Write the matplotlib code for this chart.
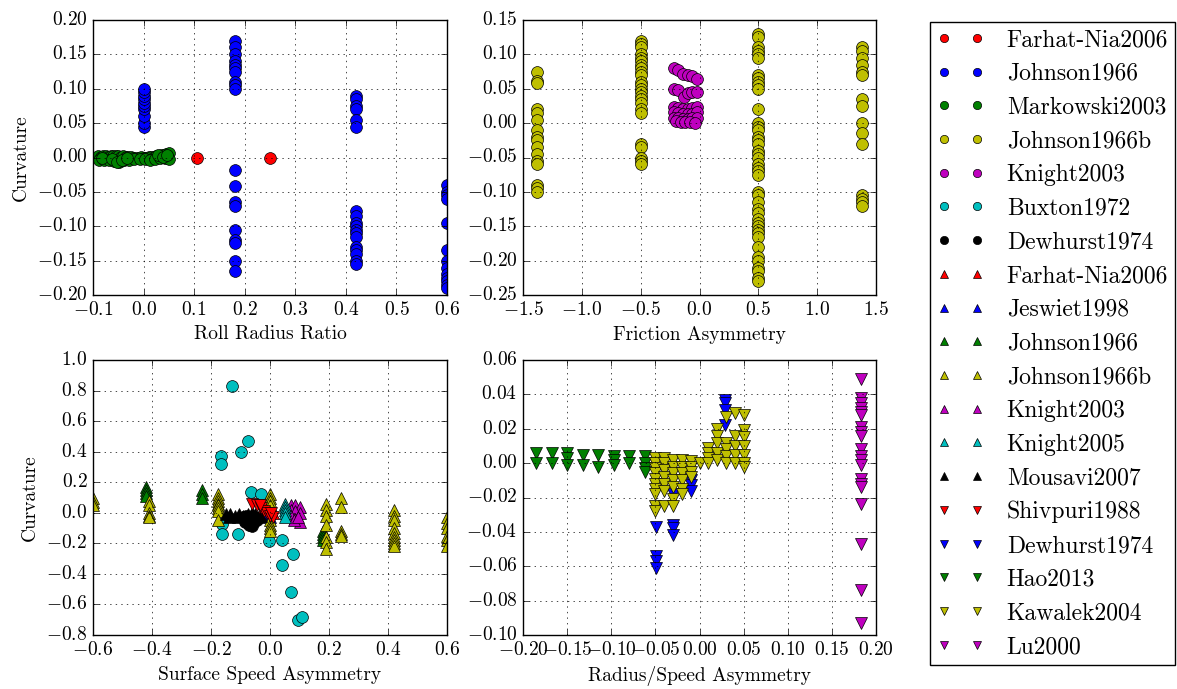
import numpy as np
import matplotlib
matplotlib.use("Agg")
import matplotlib.pyplot as plt

plt.style.use('classic')
plt.rcParams['figure.facecolor'] = 'white'
plt.rcParams['savefig.facecolor'] = 'white'
plt.rcParams['font.family'] = ['cmr10', 'DejaVu Serif']
plt.rcParams['mathtext.fontset'] = 'cm'
plt.rcParams['axes.formatter.use_mathtext'] = True
plt.rcParams['axes.unicode_minus'] = True
plt.rcParams['xtick.labelsize'] = 14
plt.rcParams['ytick.labelsize'] = 14
plt.rcParams['axes.labelsize'] = 14

# ---------- data ----------
# panel 1: roll radius ratio
farhat_circ_x = [0.105, 0.25]
farhat_circ_y = [0.0, 0.0]

johnson_circ_cols = {
    0.0: [0.045, 0.05, 0.06, 0.07, 0.075, 0.08, 0.085, 0.09, 0.095, 0.10],
    0.18: [0.17, 0.16, 0.15, 0.14, 0.135, 0.13, 0.125, 0.11, 0.105, 0.10,
           -0.018, -0.042, -0.065, -0.07, -0.105, -0.12, -0.125, -0.15, -0.165],
    0.42: [0.09, 0.085, 0.075, 0.07, 0.055, 0.045, -0.078, -0.085, -0.095,
           -0.10, -0.105, -0.11, -0.115, -0.13, -0.135, -0.14, -0.15, -0.155],
    0.6: [-0.04, -0.05, -0.055, -0.06, -0.095, -0.135, -0.15, -0.16, -0.17,
          -0.175, -0.18, -0.185, -0.19],
}

markowski_x = [-0.09, -0.085, -0.08, -0.075, -0.07, -0.065, -0.06, -0.055, -0.05,
               -0.045, -0.04, -0.035, -0.03, -0.025, -0.02, -0.015, -0.01, -0.005,
               0.0, 0.005, 0.01, 0.015, 0.02, 0.025, 0.03, 0.035, 0.04, 0.045, 0.05,
               -0.088, -0.078, -0.068, -0.058, -0.048, -0.038, -0.028, -0.018,
               -0.008, 0.002, 0.012, 0.022, 0.032, 0.042, 0.05,
               -0.083, -0.063, -0.053, -0.043, -0.033, 0.028, 0.038, 0.047]
markowski_y = [0.002, 0.001, 0.002, 0.002, 0.001, 0.002, 0.002, 0.002, 0.002,
               0.001, 0.002, 0.001, 0.001, 0.001, 0.0, 0.0, 0.0, 0.001,
               0.0, 0.0, 0.001, 0.001, 0.001, 0.002, 0.002, 0.003, 0.004, 0.005, 0.006,
               -0.003, -0.003, -0.004, -0.005, -0.006, -0.004, -0.003, -0.002,
               -0.002, -0.002, -0.003, -0.002, -0.001, -0.001, -0.002,
               -0.001, -0.002, -0.007, -0.003, -0.001, 0.004, 0.001, 0.003]

# panel 2: friction asymmetry
johnsonb_circ_cols = {
    -1.38: [0.075, 0.062, 0.058, 0.02, 0.015, 0.005, -0.01, -0.02, -0.025,
            -0.035, -0.045, -0.055, -0.06, -0.09, -0.095, -0.10],
    -0.5: [0.12, 0.115, 0.11, 0.10, 0.095, 0.09, 0.085, 0.08, 0.075, 0.07,
           0.06, 0.055, 0.05, 0.045, 0.04, 0.035, 0.03, 0.02, 0.015,
           -0.03, -0.035, -0.05, -0.055, -0.06],
    0.5: [0.13, 0.125, 0.11, 0.105, 0.10, 0.095, 0.07, 0.065, 0.06, 0.055,
          0.05, 0.02, 0.0, -0.005, -0.01, -0.02, -0.025, -0.03, -0.04, -0.045,
          -0.05, -0.06, -0.065, -0.07, -0.075, -0.10, -0.105, -0.115, -0.125,
          -0.13, -0.14, -0.145, -0.15, -0.155, -0.16, -0.165, -0.18, -0.195,
          -0.20, -0.21, -0.215, -0.225, -0.23],
    1.38: [0.11, 0.105, 0.095, 0.085, 0.075, 0.07, 0.035, 0.025, 0.0, -0.015,
           -0.03, -0.105, -0.11, -0.115, -0.12],
}

knight_circ_x = [-0.22, -0.18, -0.14, -0.10, -0.06, -0.025,
                 -0.22, -0.18, -0.13, -0.10, -0.06, -0.025,
                 -0.22, -0.18, -0.14, -0.10, -0.06, -0.025,
                 -0.22, -0.18, -0.14, -0.10, -0.06, -0.025,
                 -0.22, -0.18, -0.14, -0.10, -0.06, -0.025,
                 -0.20, -0.16, -0.12, -0.08, -0.04]
knight_circ_y = [0.080, 0.078, 0.072, 0.070, 0.068, 0.064,
                 0.050, 0.048, 0.038, 0.044, 0.046, 0.045,
                 0.024, 0.022, 0.020, 0.020, 0.022, 0.024,
                 0.016, 0.015, 0.014, 0.013, 0.014, 0.016,
                 0.008, 0.007, 0.006, 0.006, 0.007, 0.008,
                 0.003, 0.002, 0.001, 0.001, 0.0]

# panel 3: surface speed asymmetry
buxton_x = [-0.13, -0.075, -0.10, -0.165, -0.165, -0.064, -0.03, -0.162,
            -0.164, -0.107, -0.002, 0.039, 0.077, 0.04, 0.07, 0.095, 0.11]
buxton_y = [0.83, 0.47, 0.40, 0.37, 0.32, 0.134, 0.12, -0.076,
            -0.14, -0.14, -0.185, -0.178, -0.27, -0.34, -0.52, -0.70, -0.68]

dewhurst_circ_x = [-0.09, -0.08, -0.07, -0.06, -0.05, -0.085, -0.075, -0.065,
                   -0.055, -0.08, -0.07, -0.06, -0.045, -0.07, -0.06]
dewhurst_circ_y = [-0.03, -0.04, -0.05, -0.04, -0.03, -0.06, -0.065, -0.07,
                   -0.06, -0.02, -0.03, -0.02, -0.05, -0.08, -0.085]

farhat_tri_x = [-0.03, -0.01, 0.01]
farhat_tri_y = [0.0, -0.01, 0.0]

jeswiet_x = [-0.02, 0.0]
jeswiet_y = [-0.02, -0.03]

johnson_tri_cols = {
    -0.42: [0.17, 0.15, 0.13, 0.11],
    -0.23: [0.15, 0.12, 0.10],
    0.18: [-0.12, -0.14, -0.16, -0.18],
}

johnsonb_tri_cols = {
    -0.6: [0.10, 0.07, 0.05],
    -0.41: [0.08, 0.05, 0.0, -0.02, -0.03],
    -0.175: [0.12, 0.10, 0.08, 0.06, 0.05, 0.03, 0.01, -0.05],
    0.0: [0.12, 0.10, 0.08, 0.05, -0.05, -0.08, -0.10, -0.12],
    0.19: [0.06, 0.02, -0.02, -0.08, -0.16, -0.19, -0.24],
    0.24: [0.10, 0.04, -0.12, -0.14, -0.15],
    0.42: [0.02, -0.02, -0.05, -0.10, -0.13, -0.16, -0.18, -0.20, -0.22],
    0.6: [-0.03, -0.07, -0.10, -0.15, -0.18, -0.22],
}

knight_tri_x = [0.07, 0.085, 0.10, 0.07, 0.085, 0.10, 0.07, 0.085, 0.10, 0.08, 0.095]
knight_tri_y = [0.05, 0.05, 0.04, 0.02, 0.01, 0.0, -0.02, -0.04, -0.06, -0.05, -0.03]

knight05_x = [0.05, 0.05, 0.05, 0.05, 0.05]
knight05_y = [0.06, 0.04, 0.02, 0.0, -0.03]

mousavi_x = [-0.15, -0.135, -0.12, -0.105, -0.09, -0.075, -0.06, -0.05,
             -0.04, -0.03, -0.14, -0.11, -0.08]
mousavi_y = [-0.01, -0.01, -0.02, -0.01, -0.02, -0.01, 0.0, -0.01,
             -0.03, -0.02, -0.03, -0.03, -0.04]

shivpuri_x = [-0.06, -0.045, -0.03, -0.02, -0.01, 0.0, 0.01, -0.035, 0.005]
shivpuri_y = [0.06, 0.05, 0.03, 0.01, 0.0, -0.02, -0.03, 0.05, 0.0]

# panel 4: radius/speed asymmetry
hao_x = [-0.185, -0.185, -0.167, -0.167, -0.15, -0.15, -0.15, -0.132, -0.132,
         -0.115, -0.115, -0.097, -0.097, -0.097, -0.08, -0.08, -0.062, -0.062,
         -0.062, -0.062]
hao_y = [0.006, 0.0, 0.006, 0.0, 0.006, 0.003, -0.001, 0.005, -0.001,
         0.005, -0.002, 0.004, 0.002, -0.001, 0.004, 0.0, 0.004, 0.0,
         -0.003, -0.005]

kawalek_cols = {
    -0.05: [0.003, 0.0, -0.003, -0.006, -0.009, -0.012, -0.015, -0.018,
            -0.025, -0.028],
    -0.04: [0.003, 0.0, -0.004, -0.008, -0.012, -0.016, -0.025],
    -0.03: [0.002, -0.002, -0.006, -0.010, -0.014, -0.021, -0.025],
    -0.02: [0.002, -0.002, -0.006, -0.010, -0.015, -0.018],
    -0.01: [0.001, -0.002, -0.005, -0.008],
    0.0: [0.0],
    0.01: [0.009, 0.006, 0.003, 0.0],
    0.02: [0.020, 0.016, 0.012, 0.006, 0.002],
    0.03: [0.027, 0.012, 0.008, 0.004, 0.0],
    0.04: [0.029, 0.016, 0.010, 0.005, 0.0],
    0.05: [0.028, 0.019, 0.015, 0.010, 0.005, 0.0, -0.002],
}

dewhurst_tri_x = [-0.049, -0.049, -0.049, -0.049, -0.03, -0.03, -0.03, -0.03,
                  0.029, 0.029, 0.029, 0.029, -0.01, -0.01, -0.01]
dewhurst_tri_y = [-0.037, -0.054, -0.057, -0.061, -0.018, -0.036, -0.038, -0.042,
                  0.037, 0.035, 0.031, 0.022, -0.010, -0.013, -0.016]

lu_y = [0.049, 0.038, 0.035, 0.032, 0.030, 0.028, 0.021, 0.018, 0.016, 0.008,
        0.004, 0.002, -0.001, -0.009, -0.012, -0.014, -0.024, -0.047, -0.074,
        -0.093]
lu_x = [0.183] * len(lu_y)


def cols_to_xy(cols):
    xs, ys = [], []
    for x, yy in cols.items():
        xs += [x] * len(yy)
        ys += yy
    return xs, ys


W, H = 1177, 689
fig = plt.figure(figsize=(W / 100, H / 100), dpi=100)


def rect(l, t, r, b):
    return [l / W, 1 - b / H, (r - l) / W, (b - t) / H]


ax1 = fig.add_axes(rect(93, 20, 447, 295))
ax2 = fig.add_axes(rect(523, 20, 876, 295))
ax3 = fig.add_axes(rect(93, 360, 447, 635))
ax4 = fig.add_axes(rect(523, 360, 876, 635))

RED, BLUE, GREEN = (1, 0, 0), (0, 0, 1), (0, 0.5, 0)
YEL, MAG, CYAN, BLK = (0.75, 0.75, 0), (0.75, 0, 0.75), (0, 0.75, 0.75), (0, 0, 0)

jx, jy = cols_to_xy(johnson_circ_cols)
jbx, jby = cols_to_xy(johnsonb_circ_cols)
jtx, jty = cols_to_xy(johnson_tri_cols)
jbtx, jbty = cols_to_xy(johnsonb_tri_cols)
kx, ky = cols_to_xy(kawalek_cols)

series = [
    (ax1, 'o', RED, 'Farhat-Nia2006', farhat_circ_x, farhat_circ_y),
    (ax1, 'o', BLUE, 'Johnson1966', jx, jy),
    (ax1, 'o', GREEN, 'Markowski2003', markowski_x, markowski_y),
    (ax2, 'o', YEL, 'Johnson1966b', jbx, jby),
    (ax2, 'o', MAG, 'Knight2003', knight_circ_x, knight_circ_y),
    (ax3, 'o', CYAN, 'Buxton1972', buxton_x, buxton_y),
    (ax3, 'o', BLK, 'Dewhurst1974', dewhurst_circ_x, dewhurst_circ_y),
    (ax3, '^', RED, 'Farhat-Nia2006', farhat_tri_x, farhat_tri_y),
    (ax3, '^', BLUE, 'Jeswiet1998', jeswiet_x, jeswiet_y),
    (ax3, '^', GREEN, 'Johnson1966', jtx, jty),
    (ax3, '^', YEL, 'Johnson1966b', jbtx, jbty),
    (ax3, '^', MAG, 'Knight2003', knight_tri_x, knight_tri_y),
    (ax3, '^', CYAN, 'Knight2005', knight05_x, knight05_y),
    (ax3, '^', BLK, 'Mousavi2007', mousavi_x, mousavi_y),
    (ax3, 'v', RED, 'Shivpuri1988', shivpuri_x, shivpuri_y),
    (ax4, 'v', BLUE, 'Dewhurst1974', dewhurst_tri_x, dewhurst_tri_y),
    (ax4, 'v', GREEN, 'Hao2013', hao_x, hao_y),
    (ax4, 'v', YEL, 'Kawalek2004', kx, ky),
    (ax4, 'v', MAG, 'Lu2000', lu_x, lu_y),
]

handles = []
for ax, m, c, lab, xs, ys in series:
    ms = 8.5 if m == 'o' else 8
    h, = ax.plot(xs, ys, m, color=c, mec='k', mew=0.5, ms=ms, label=lab)
    handles.append(h)

ax1.set_xlim(-0.1, 0.6)
ax1.set_ylim(-0.2, 0.2)
ax1.set_xlabel('Roll Radius Ratio')
ax1.set_ylabel('Curvature')

ax2.set_xlim(-1.5, 1.5)
ax2.set_ylim(-0.25, 0.15)
ax2.set_xlabel('Friction Asymmetry')

ax3.set_xlim(-0.6, 0.6)
ax3.set_ylim(-0.8, 1.0)
ax3.set_xlabel('Surface Speed Asymmetry')
ax3.set_ylabel('Curvature')

ax4.set_xlim(-0.2, 0.2)
ax4.set_ylim(-0.1, 0.06)
ax4.set_xlabel('Radius/Speed Asymmetry')

for ax in (ax1, ax2, ax3, ax4):
    ax.grid(True)

fig.legend(handles, [h.get_label() for h in handles], loc='upper left',
           bbox_to_anchor=(930 / W, 1 - 22 / H), borderaxespad=0,
           numpoints=2, markerscale=0.7, fontsize=17, labelspacing=0.49,
           handlelength=2.0, borderpad=0.3, handletextpad=0.95,
           fancybox=False)

fig.savefig('out.png', dpi=100)
